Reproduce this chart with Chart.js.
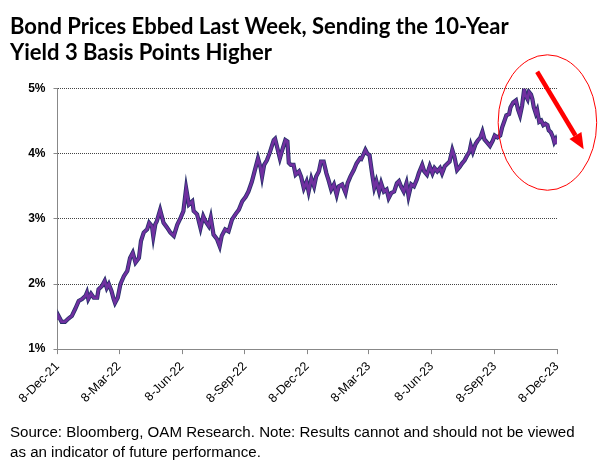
<!DOCTYPE html>
<html><head><meta charset="utf-8">
<script src="https://cdn.jsdelivr.net/npm/chart.js@4.4.0/dist/chart.umd.min.js"></script>
<style>html,body{margin:0;padding:0;background:#fff}canvas{display:block}</style>
</head><body>
<canvas id="c" width="604" height="475"></canvas>
<script>
const titleLines = ['Bond Prices Ebbed Last Week, Sending the 10-Year', 'Yield 3 Basis Points Higher'];
const sourceLines = ['Source: Bloomberg, OAM Research. Note: Results cannot and should not be viewed', 'as an indicator of future performance.'];
const tickDays = [0, 90, 182, 274, 365, 455, 547, 639, 730];
const tickLabels = ['8-Dec-21', '8-Mar-22', '8-Jun-22', '8-Sep-22', '8-Dec-22', '8-Mar-23', '8-Jun-23', '8-Sep-23', '8-Dec-23'];
const yTicks = [1, 2, 3, 4, 5];
// days since 8-Dec-21
const days = [0,1,6,11,16,21,26,31,36,41,43,45,49,53,58,60,65,69,72,75,79,82,84,88,92,97,102,106,110,114,119,122,126,131,134,138,140,143,145,150,155,160,165,170,175,180,184,188,192,197,199,204,209,213,216,221,224,228,233,237,240,245,250,255,260,265,270,275,279,284,288,293,297,299,302,306,310,316,318,322,325,328,333,336,338,341,345,348,353,356,360,364,367,371,375,378,382,385,389,393,396,400,404,408,411,416,421,424,428,433,437,442,444,450,453,456,460,463,466,470,473,477,481,484,488,492,496,499,502,506,510,513,517,521,525,528,533,536,540,544,548,551,555,559,562,566,570,573,577,580,584,588,591,595,599,602,604,607,611,614,618,621,624,628,632,636,639,643,647,650,653,656,660,662,666,670,673,676,679,682,684,687,689,692,694,696,699,701,704,707,710,713,716,718,721,724,726,728,730];
// 10-year Treasury yield, %
const yields = [1.45,1.52,1.42,1.42,1.47,1.51,1.62,1.74,1.77,1.82,1.87,1.77,1.85,1.79,1.79,1.92,1.97,2.05,1.94,2.00,1.89,1.77,1.71,1.79,2.00,2.12,2.20,2.40,2.48,2.33,2.40,2.66,2.79,2.84,2.94,2.89,2.73,2.92,2.96,3.14,2.94,2.87,2.79,2.74,2.91,3.02,3.12,3.47,3.22,3.27,3.12,3.07,2.86,3.04,2.97,2.89,3.02,2.76,2.69,2.58,2.74,2.84,2.81,2.99,3.07,3.14,3.27,3.34,3.42,3.57,3.73,3.93,3.78,3.65,3.83,3.90,4.01,4.21,4.23,4.06,3.93,4.04,4.21,4.19,3.86,3.83,3.83,3.68,3.73,3.65,3.47,3.57,3.42,3.62,3.50,3.65,3.73,3.88,3.88,3.70,3.60,3.45,3.53,3.37,3.50,3.53,3.40,3.55,3.65,3.75,3.85,3.93,3.92,4.06,4.00,3.98,3.68,3.48,3.58,3.42,3.55,3.42,3.45,3.32,3.40,3.42,3.55,3.58,3.50,3.42,3.55,3.35,3.53,3.50,3.60,3.70,3.83,3.73,3.68,3.81,3.70,3.78,3.73,3.78,3.70,3.81,3.85,3.88,4.06,3.96,3.75,3.80,3.85,3.90,3.98,4.03,4.13,4.03,4.15,4.20,4.25,4.34,4.22,4.17,4.12,4.20,4.28,4.25,4.28,4.41,4.50,4.59,4.61,4.71,4.79,4.82,4.68,4.59,4.74,4.99,4.90,4.84,4.95,4.91,4.84,4.72,4.62,4.67,4.49,4.51,4.44,4.46,4.44,4.36,4.33,4.26,4.18,4.22,4.15];

const points = days.map((d, i) => ({ x: d, y: yields[i] }));

const bgPlugin = {
  id: 'bg',
  beforeDraw(chart) {
    const c = chart.ctx; c.save(); c.fillStyle = '#fff'; c.fillRect(0, 0, chart.width, chart.height); c.restore();
  }
};

const annotPlugin = {
  id: 'annot',
  afterDraw(chart) {
    const { ctx, scales: { x, y } } = chart;
    const cx = x.getPixelForValue(716), cy = y.getPixelForValue(4.48);
    const rx = x.getPixelForValue(716 + 72) - cx;
    const ry = y.getPixelForValue(4.48 - 1.04) - cy;
    ctx.save();
    ctx.strokeStyle = '#FF0000';
    ctx.lineWidth = 1;
    ctx.beginPath();
    ctx.ellipse(cx, cy, rx, ry, 0, 0, Math.PI * 2);
    ctx.stroke();
    const x1 = x.getPixelForValue(701), y1 = y.getPixelForValue(5.26);
    const x2 = x.getPixelForValue(769), y2 = y.getPixelForValue(4.07);
    const ang = Math.atan2(y2 - y1, x2 - x1);
    const headLen = 16, headHalf = 7;
    const bx = x2 - headLen * Math.cos(ang), by = y2 - headLen * Math.sin(ang);
    ctx.strokeStyle = '#FF0000';
    ctx.lineWidth = 4.5;
    ctx.beginPath(); ctx.moveTo(x1, y1); ctx.lineTo(bx, by); ctx.stroke();
    ctx.fillStyle = '#FF0000';
    ctx.beginPath();
    ctx.moveTo(x2, y2);
    ctx.lineTo(bx + headHalf * Math.sin(ang), by - headHalf * Math.cos(ang));
    ctx.lineTo(bx - headHalf * Math.sin(ang), by + headHalf * Math.cos(ang));
    ctx.closePath(); ctx.fill();
    ctx.restore();
  }
};

new Chart(document.getElementById('c'), {
  type: 'line',
  data: {
    datasets: [
      { data: points, borderColor: '#7030A0', borderWidth: 2.6, pointRadius: 0, tension: 0, order: 1 },
      { data: points, borderColor: '#27306A', borderWidth: 4.2, pointRadius: 0, tension: 0, order: 2 }
    ]
  },
  options: {
    responsive: false,
    animation: false,
    devicePixelRatio: 1,
    layout: { padding: { left: 10, right: 0, top: 4, bottom: 12 } },
    plugins: {
      legend: { display: false },
      tooltip: { enabled: false },
      title: {
        display: true, text: titleLines, align: 'start', color: '#000',
        font: { family: 'Lato', weight: 'bold', size: 22, lineHeight: 1.22 },
        padding: { top: 9, bottom: 22 }
      },
      subtitle: {
        display: true, position: 'bottom', text: sourceLines, align: 'start', color: '#000',
        font: { family: "'Liberation Sans'", size: 15.1, lineHeight: 1.32 },
        padding: { top: 8, bottom: 0 }
      }
    },
    scales: {
      x: {
        type: 'linear', min: 0, max: 730,
        afterBuildTicks: (s) => { s.ticks = tickDays.map(v => ({ value: v })); },
        afterFit: (s) => { s.height = 66; },
        ticks: {
          autoSkip: false, minRotation: 45, maxRotation: 45, color: '#000', padding: 5,
          font: { family: "'Liberation Sans'", size: 12.5 },
          callback: (v) => { const i = tickDays.indexOf(v); return i >= 0 ? tickLabels[i] : ''; }
        },
        grid: { display: true, drawOnChartArea: false, drawTicks: true, tickLength: 5, tickColor: '#888' },
        border: { display: true, color: '#888', width: 1 }
      },
      y: {
        min: 1, max: 5,
        afterBuildTicks: (s) => { s.ticks = yTicks.map(v => ({ value: v })); },
        afterFit: (s) => { s.width = 47.5; },
        ticks: {
          color: '#000', padding: 8,
          font: { family: "'Liberation Sans'", size: 12, weight: 'bold' },
          callback: (v) => v + '%'
        },
        grid: {
          color: (c) => (c.tick && c.tick.value === 1) ? 'rgba(0,0,0,0)' : '#444',
          tickColor: '#888', tickLength: 4, tickBorderDash: [], lineWidth: 1
        },
        border: { display: true, color: '#888', width: 1, dash: [1, 1] }
      },
      yRight: {
        position: 'right', min: 1, max: 5,
        afterFit: (s) => { s.width = 47; },
        ticks: { display: false },
        grid: { display: false, drawOnChartArea: false, drawTicks: false },
        border: { display: false }
      }
    }
  },
  plugins: [bgPlugin, annotPlugin]
});
</script>
</body></html>
